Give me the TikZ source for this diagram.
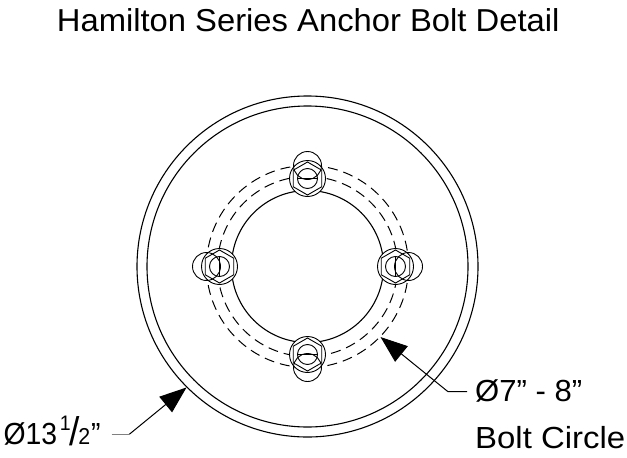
\documentclass[tikz,border=0pt]{standalone}
\usepackage{fontspec}
\setmainfont{Liberation Sans}
\usepackage{graphicx}
\usetikzlibrary{arrows.meta,calc}
\newcommand\fitw[2]{\resizebox{#1}{\height}{#2}}
\tikzset{
  ring/.style={circle, draw, line width=1.1pt, inner sep=0pt, minimum size=#1},
  dring/.style={circle, draw, line width=1pt, inner sep=0pt, minimum size=#1, dash pattern=on 10pt off 6pt},
  boltline/.style={line width=0.9pt},
  leader/.style={line width=1pt},
  lbl/.style={anchor=base west, inner sep=0pt, font=\fontsize{30.5}{36}\selectfont},
  bigtip/.style={-{Triangle[length=27pt,width=20pt]}}
}
\begin{document}
\begin{tikzpicture}[x=1pt,y=-1pt]
\useasboundingbox (0,0) rectangle (627,458);
\coordinate (c) at (307.5,266.5);
% plate
\node[ring=341pt] (outer) at (c) {};
\node[ring=321pt] (inner) at (c) {};
\node[ring=152pt] (hole) at (c) {};
\node[dring=180pt] (bcin) at (c) {};
\node[dring=202pt] (bcout) at (c) {};
% bolts
\foreach \a/\n in {90/bb,180/bl,270/bt,0/br}{
  \coordinate (\n) at ($(c)+(\a:88)$);
  \coordinate (\n o) at ($(\n)+(\a:13)$);
  \fill[white] (\n) circle[radius=18] (\n o) circle[radius=14];
  \draw[boltline] (\n) circle[radius=18];
  \draw[boltline] (\n o) circle[radius=14];
  \draw[boltline] ($(\n)+(90:16.5)$) -- ($(\n)+(150:16.5)$) -- ($(\n)+(210:16.5)$) -- ($(\n)+(270:16.5)$) -- ($(\n)+(330:16.5)$) -- ($(\n)+(30:16.5)$) -- cycle;
  \draw[boltline] (\n) circle[radius=10];
  \draw[boltline] ($(\n)+(\a+90:10)$) -- ($(\n)+(\a-90:10)$);
}
% title
\node[anchor=base west, inner sep=0pt, font=\fontsize{31.7}{36}\selectfont] (title) at (56.7,31.7) {\fitw{502.6pt}{Hamilton Series Anchor Bolt Detail}};
% labels
\node[lbl] (d13) at (3.3,444) {\fitw{97pt}{Ø13\kern3pt\raisebox{14pt}{\fontsize{21}{21}\selectfont 1}\kern-1pt\raisebox{-1pt}{\fontsize{40}{40}\selectfont /}\kern-2pt{\fontsize{23}{23}\selectfont 2}\kern1pt”}};
\node[lbl] (d78) at (475,401.7) {\fitw{107pt}{Ø7” - 8”}};
\node[lbl] (bc) at (475,448) {\fitw{150pt}{Bolt Circle}};
% leaders
\coordinate (l1) at (111.7,434.3);
\coordinate (l2) at (129.3,434.3);
\coordinate (r1) at (448,391.7);
\coordinate (r2) at (467,391.7);
\draw[leader, gray] (l1) -- (l2);
\draw[leader, bigtip] (l2) -- (outer.225);
\draw[leader, bigtip] (r2) -- (r1) -- (bcout.316.5);
\end{tikzpicture}
\end{document}
